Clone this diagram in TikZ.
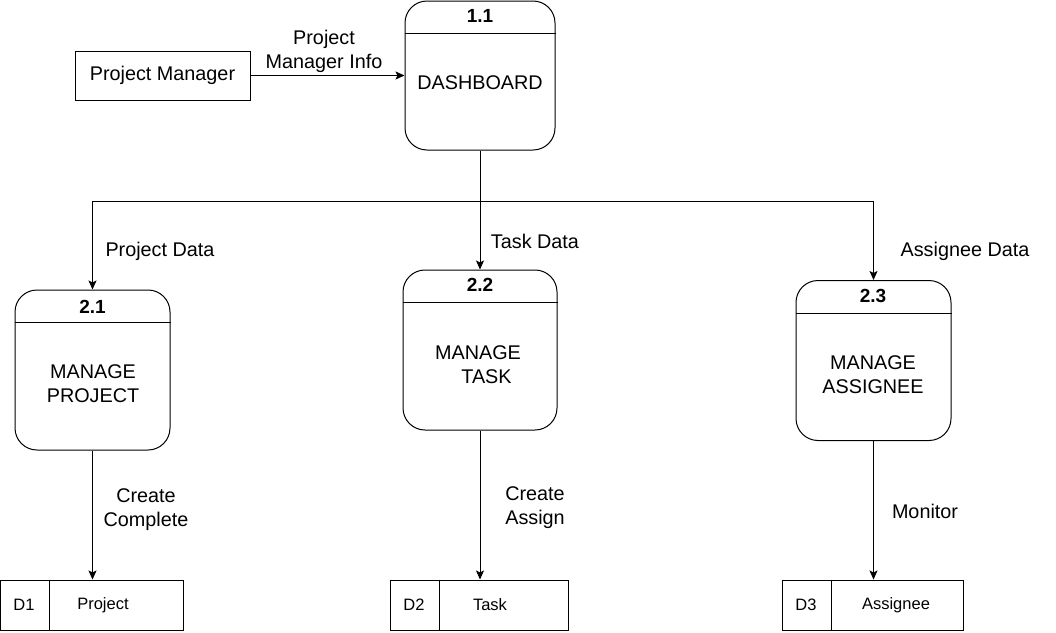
\documentclass[tikz,border=0pt]{standalone}
\usepackage{fontspec}
\setmainfont{Liberation Sans}
\usetikzlibrary{arrows.meta}
\begin{document}
\begin{tikzpicture}[x=1pt,y=-1pt,
  every node/.style={font=\fontsize{19.8}{24}\selectfont, inner sep=0pt},
  proc/.style={draw, line width=1pt, rounded corners=22pt, minimum width=150pt, minimum height=150pt},
  ent/.style={draw, line width=1pt, minimum width=175pt, minimum height=49pt},
  store/.style={draw, line width=1pt, minimum height=50pt},
  idtext/.style={font=\bfseries\fontsize{19}{24}\selectfont},
  lbl/.style={align=center},
  stxt/.style={font=\fontsize{16.5}{20}\selectfont},
  flow/.style={line width=1pt},
  arr/.style={line width=1pt, -{Stealth[length=9pt,width=8pt,inset=2pt]}}
]
\useasboundingbox (0,0) rectangle (1056,632);

% external entity
\node[ent] (pm) at (162.5,75.5) {Project Manager};

% process 1.1
\node[proc, minimum width=150pt, minimum height=149pt] (p11) at (480,75.5) {};
\draw[flow] ([yshift=-33pt]p11.north west) -- ([yshift=-33pt]p11.north east);
\node[idtext] (p11id) at (480,16) {1.1};
\node[lbl] (p11t) at (480,83) {DASHBOARD};

% process 2.1
\node[proc, minimum width=155pt, minimum height=160pt] (p21) at (92.5,370) {};
\draw[flow] ([yshift=-33pt]p21.north west) -- ([yshift=-33pt]p21.north east);
\node[idtext] (p21id) at (92.5,307) {2.1};
\node[lbl] (p21t) at (93,384) {MANAGE\\PROJECT};

% process 2.2
\node[proc, minimum width=154pt, minimum height=160pt] (p22) at (480,350) {};
\draw[flow] ([yshift=-33pt]p22.north west) -- ([yshift=-33pt]p22.north east);
\node[idtext] (p22id) at (480,285) {2.2};
\node[lbl] (p22t) at (478,365) {MANAGE\\\hspace*{17pt}TASK};

% process 2.3
\node[proc, minimum width=155pt, minimum height=160pt] (p23) at (873.5,360.5) {};
\draw[flow] ([yshift=-33pt]p23.north west) -- ([yshift=-33pt]p23.north east);
\node[idtext] (p23id) at (873,296) {2.3};
\node[lbl] (p23t) at (873,375) {MANAGE\\ASSIGNEE};

% data stores
\node[store, minimum width=183pt] (d1) at (91.5,605) {};
\draw[flow] (d1.north west) ++(50,0) coordinate (d1a) -- (d1a |- d1.south);
\node[stxt] (d1id) at (24,605) {D1};
\node[stxt] (d1t) at (103,605) {Project};

\node[store, minimum width=178pt] (d2) at (479,605) {};
\draw[flow] (d2.north west) ++(50,0) coordinate (d2a) -- (d2a |- d2.south);
\node[stxt] (d2id) at (414,605) {D2};
\node[stxt] (d2t) at (490,605) {Task};

\node[store, minimum width=181pt] (d3) at (872.5,605) {};
\draw[flow] (d3.north west) ++(50,0) coordinate (d3a) -- (d3a |- d3.south);
\node[stxt] (d3id) at (806,605) {D3};
\node[stxt] (d3t) at (896,605) {Assignee};

% flows
\draw[arr] (pm.east) -- (pm.east -| p11.west);
\node[lbl] (l1) at (324,51) {Project\\Manager Info};

\coordinate (j) at (480,201);
\draw[flow] (p11.south) -- (j);
\draw[arr] (j) -| (p21.north);
\draw[arr] (j) -- (p22.north);
\draw[arr] (j) -| (p23.north);
\node (l2) at (160,251) {Project Data};
\node (l3) at (535,241) {Task Data};
\node (l4) at (965,251) {Assignee Data};

\draw[arr] (p21.south) -- (p21.south |- d1.north);
\draw[arr] (p22.south) -- (p22.south |- d2.north);
\draw[arr] (p23.south) -- (p23.south |- d3.north);
\node[lbl] (l5) at (146,510) {Create\\Complete};
\node[lbl] (l6) at (535,508) {Create\\Assign};
\node (l7) at (925,511) {Monitor};
\end{tikzpicture}
\end{document}
